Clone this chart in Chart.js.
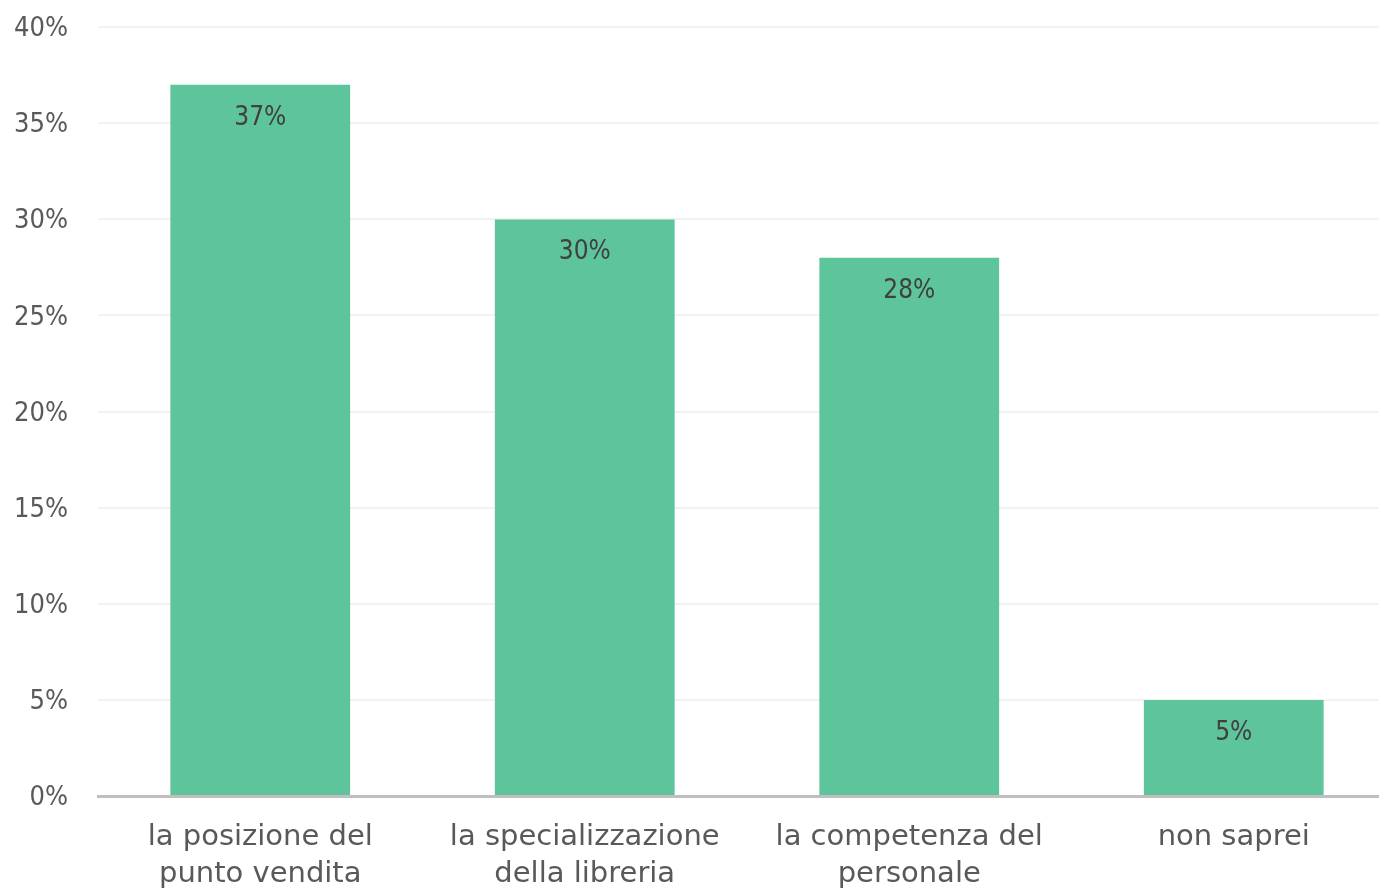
<!DOCTYPE html>
<html>
<head>
<meta charset="utf-8">
<script src="https://cdn.jsdelivr.net/npm/chart.js@4"></script>
<style>
  html, body { margin: 0; padding: 0; background: #fff; overflow: hidden; }
  body { width: 1379px; height: 889px; position: relative; }
  /* plot runs a bit past the right and top edges in the original */
  #wrap { position: absolute; left: 0; top: -19px; width: 1396px; height: 908px; }
</style>
</head>
<body>
<div id="wrap"><canvas id="myChart"></canvas></div>
<script>
// data
var categories = [
    ['la posizione del', 'punto vendita'],
    ['la specializzazione', 'della libreria'],
    ['la competenza del', 'personale'],
    'non saprei'
]
var values = [37, 30, 28, 5]
var tickValues = [0, 5, 10, 15, 20, 25, 30, 35, 40]

var numFont = "'DejaVu Sans Condensed', 'DejaVu Sans', sans-serif"
var catFont = "'DejaVu Sans', sans-serif"

// simple label plugin, writes the value inside the top of each bar
var barLabels = {
    id: 'barLabels',
    afterDatasetsDraw: function(chart) {
        var ctx = chart.ctx
        var meta = chart.getDatasetMeta(0)
        ctx.save()
        ctx.font = '26px ' + numFont
        ctx.fillStyle = '#404040'
        ctx.textAlign = 'center'
        ctx.textBaseline = 'middle'
        meta.data.forEach(function(bar, i) {
            ctx.fillText(values[i] + '%', bar.x, bar.y + 33)
        })
        ctx.restore()
    }
}

var ctx = document.getElementById('myChart')
var myChart = new Chart(ctx, {
    type: 'bar',
    data: {
        labels: categories,
        datasets: [{
            data: values,
            backgroundColor: '#5ec49c',
            borderWidth: 0,
            barPercentage: 0.554,
            categoryPercentage: 1
        }]
    },
    options: {
        responsive: true,
        maintainAspectRatio: false,
        animation: false,
        layout: { padding: 0 },
        plugins: {
            legend: { display: false },
            tooltip: { enabled: false }
        },
        scales: {
            x: {
                grid: { display: false, drawTicks: false },
                border: { color: '#bfbfbf', width: 3 },
                ticks: {
                    color: '#595959',
                    font: { family: catFont, size: 29, lineHeight: '37px' },
                    padding: 23,
                    maxRotation: 0,
                    autoSkip: false
                },
                afterFit: function(scale) { scale.height = 93 }
            },
            y: {
                min: 0,
                max: 40,
                afterBuildTicks: function(scale) {
                    scale.ticks = tickValues.map(function(v) { return { value: v } })
                },
                grid: { color: '#f2f2f2', lineWidth: 2, drawTicks: false },
                border: { display: false },
                ticks: {
                    color: '#595959',
                    font: { family: numFont, size: 27 },
                    padding: 30,
                    labelOffset: 2,
                    callback: function(v) { return v + '%' }
                },
                afterFit: function(scale) { scale.width = 98 }
            }
        }
    },
    plugins: [barLabels]
})
</script>
</body>
</html>
